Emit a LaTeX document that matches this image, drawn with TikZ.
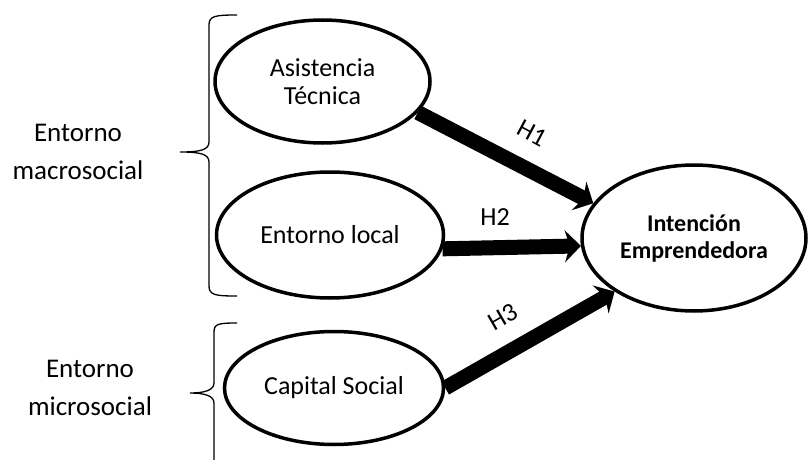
\documentclass[tikz,border=0pt]{standalone}
\usepackage{fontspec}
\setmainfont{Carlito}
\usetikzlibrary{shapes.geometric,arrows.meta}
\begin{document}
\begin{tikzpicture}[x=1pt,y=-1pt,
  ell/.style={draw,ellipse,line width=3.5pt,inner sep=0pt,align=center,font=\fontsize{26}{28}\selectfont},
  hyp/.style={line width=15pt,-{Stealth[length=16pt,width=32pt,inset=5pt]}},
  hlab/.style={font=\fontsize{26}{28}\selectfont},
  side/.style={align=center,font=\fontsize{27}{38}\selectfont},
  brace/.style={line width=1.3pt}
]
\useasboundingbox (0,0) rectangle (809,460);

\node[ell,minimum width=215pt,minimum height=123pt] (A) at (322.5,81.5) {Asistencia\\Técnica};
\node[ell,minimum width=227pt,minimum height=126pt] (B) at (330,235) {Entorno local};
\node[ell,minimum width=219pt,minimum height=113pt] (C) at (334,388) {Capital Social};
\node[ell,minimum width=224pt,minimum height=146pt,font=\fontsize{24}{27}\selectfont\bfseries] (D) at (694,238) {Intención\\Emprendedora};

\draw[hyp] (A.-18) -- (D.161);
\draw[hyp] (B.-7) -- (D.-176);
\draw[hyp] (C.0) -- (D.214);

\node[hlab,rotate=-28] (h1) at (532,133) {H1};
\node[hlab] (h2) at (495,217) {H2};
\node[hlab,rotate=30] (h3) at (503,317) {H3};

\node[side] (macro) at (78,152) {Entorno\\macrosocial};
\node[side] (micro) at (90,388) {Entorno\\microsocial};

\draw[brace] (237,15) .. controls (215,15) and (209,16) .. (209,25) -- (209,142)
  .. controls (209,150) and (200,152) .. (180,152)
  .. controls (200,152) and (209,154) .. (209,162) -- (209,286)
  .. controls (209,295) and (215,296) .. (237,296);
\draw[brace] (237,323) .. controls (218,323) and (214,324) .. (214,332) -- (214,383)
  .. controls (214,390) and (205,393) .. (190,393)
  .. controls (205,393) and (214,396) .. (214,403) -- (214,460);
\end{tikzpicture}
\end{document}
